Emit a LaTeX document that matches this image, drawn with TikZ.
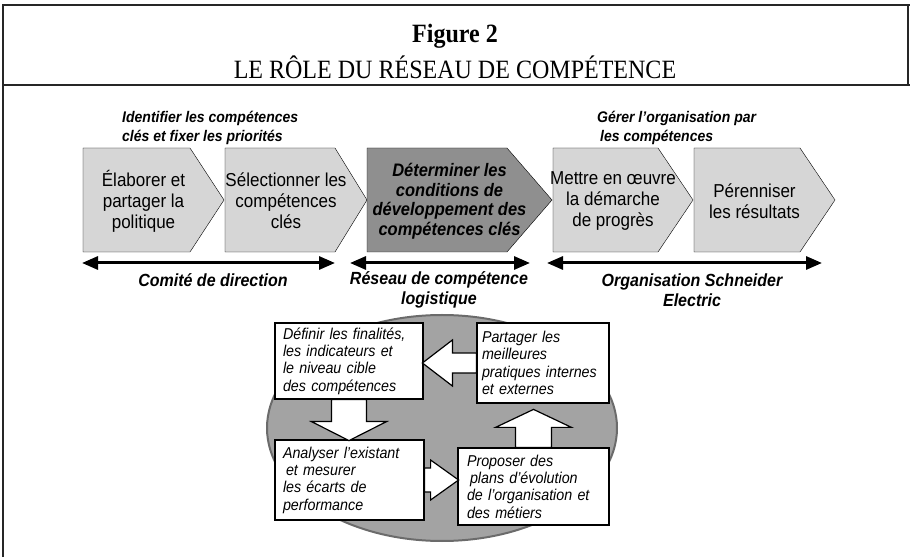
\documentclass[tikz,border=0pt]{standalone}
\usepackage{fontspec}
\setmainfont[FakeStretch=0.91]{Liberation Serif}
\newfontfamily\arialfont[FakeStretch=0.91]{Liberation Sans}
\usetikzlibrary{arrows.meta}

\definecolor{stagegrey}{gray}{0.84}
\definecolor{keygrey}{gray}{0.56}
\definecolor{ringgrey}{gray}{0.64}
\definecolor{ringedge}{gray}{0.42}

% chevron: name, left, right of body, tip, fill, text style, text
\newcommand\chevronbox[7]{%
  \draw[fill=#5] (#2,305) -- (#3,305) -- (#4,357) -- (#3,409) -- (#2,409) -- cycle;
  \node[#6] (#1) at ({(#2+#4)/2-10},356) {#7};}

% hollow arrow: tail, direction, length, head length, half shaft, half head
\newcommand\blockarrow[6]{%
  \draw[cycle arrow,shift={(#1)},rotate=#2] (0,#5) -- ({#3-#4},#5) -- ({#3-#4},#6)
    -- (#3,0) -- ({#3-#4},-#6) -- ({#3-#4},-#5) -- (0,-#5) -- cycle;}

\begin{document}
\begin{tikzpicture}[x=1pt,y=1pt,>={Triangle[length=16pt,width=13pt]},line join=miter,
    frame/.style={line width=1.8pt,draw=black!85},
    stage text/.style={font=\arialfont\fontsize{18.7}{21}\selectfont,align=center,inner sep=0},
    key stage text/.style={font=\arialfont\bfseries\itshape\fontsize{18.1}{19.5}\selectfont,align=center,inner sep=0},
    phase label/.style={font=\arialfont\bfseries\itshape\fontsize{15.4}{18.5}\selectfont,align=left,inner sep=0},
    actor label/.style={font=\arialfont\bfseries\itshape\fontsize{17.6}{19.5}\selectfont,align=center,inner sep=0},
    span/.style={<->,line width=3pt},
    task box/.style={draw,line width=1.2pt,fill=white,align=left,inner ysep=2pt,
      font=\arialfont\itshape\fontsize{15.7}{17.3}\selectfont},
    cycle arrow/.style={draw,line width=1.2pt,fill=white}]
  \useasboundingbox (0,0) rectangle (910,557);

  % frame and heading
  \draw[frame] (3,0) -- (3,552) -- (910,552);
  \draw[frame] (3,472) -- (910,472);
  \draw[frame] (908,552) -- (908,472);
  \node[font=\bfseries\fontsize{26.4}{30}\selectfont] (fig) at (455,521) {Figure 2};
  \node[font=\fontsize{26.4}{30}\selectfont] (title) at (455,490) {LE RÔLE DU RÉSEAU DE COMPÉTENCE};

  % stages
  \node[phase label,anchor=west] (keys) at (122,429) {Identifier les compétences\\clés et fixer les priorités};
  \node[phase label,anchor=west] (manage) at (597,429) {Gérer l’organisation par\\\hspace{3pt}les compétences};
  \chevronbox{elab}{83}{190}{224}{stagegrey}{stage text}{Élaborer et\\partager la\\politique}
  \chevronbox{select}{225}{335}{367}{stagegrey}{stage text}{Sélectionner les\\compétences\\clés}
  \chevronbox{determine}{367}{507}{552}{keygrey}{key stage text}{Déterminer les\\conditions de\\développement des\\compétences clés}
  \chevronbox{implement}{553}{658}{693}{stagegrey}{stage text}{Mettre en œuvre\\la démarche\\de progrès}
  \chevronbox{sustain}{694}{800}{835}{stagegrey}{stage text}{Pérenniser\\les résultats}

  % who is in charge
  \coordinate (board-l) at (82,294);
  \coordinate (board-r) at (335,294);
  \coordinate (net-l) at (350,294);
  \coordinate (net-r) at (530,294);
  \coordinate (org-l) at (547,294);
  \coordinate (org-r) at (822,294);
  \draw[span] (board-l) -- (board-r);
  \draw[span] (net-l) -- (net-r);
  \draw[span] (org-l) -- (org-r);
  \node[actor label] (board) at (213,277) {Comité de direction};
  \node[actor label] (net) at (439,267) {Réseau de compétence\\logistique};
  \node[actor label] (org) at (692,267) {Organisation Schneider\\Electric};

  % network cycle
  \draw[fill=ringgrey,draw=ringedge,line width=2pt] (442,129) ellipse [x radius=175,y radius=113];
  \node[task box,text width=132pt,inner xsep=8pt,minimum height=76pt] (define) at (349,196)
    {Définir les finalités,\\les indicateurs et\\le niveau cible\\des compétences};
  \node[task box,text width=122pt,inner xsep=5pt,minimum height=80pt] (share) at (543,194)
    {Partager les\\meilleures\\pratiques internes\\et externes};
  \node[task box,text width=133pt,inner xsep=8pt,minimum height=80pt] (analyse) at (349.5,77)
    {Analyser l’existant\\\hspace{3pt}et mesurer\\les écarts de\\performance};
  \node[task box,text width=133pt,inner xsep=9pt,minimum height=77pt] (propose) at (533.5,70.5)
    {Proposer des\\\hspace{3pt}plans d’évolution\\de l’organisation et\\des métiers};
  \blockarrow{share.west}{180}{54}{30}{10}{23}
  \blockarrow{define.south}{-90}{41}{19}{17.5}{37.5}
  \blockarrow{analyse.east}{0}{34}{28}{12}{20}
  \blockarrow{propose.north}{90}{38}{18}{18}{38}
\end{tikzpicture}
\end{document}
